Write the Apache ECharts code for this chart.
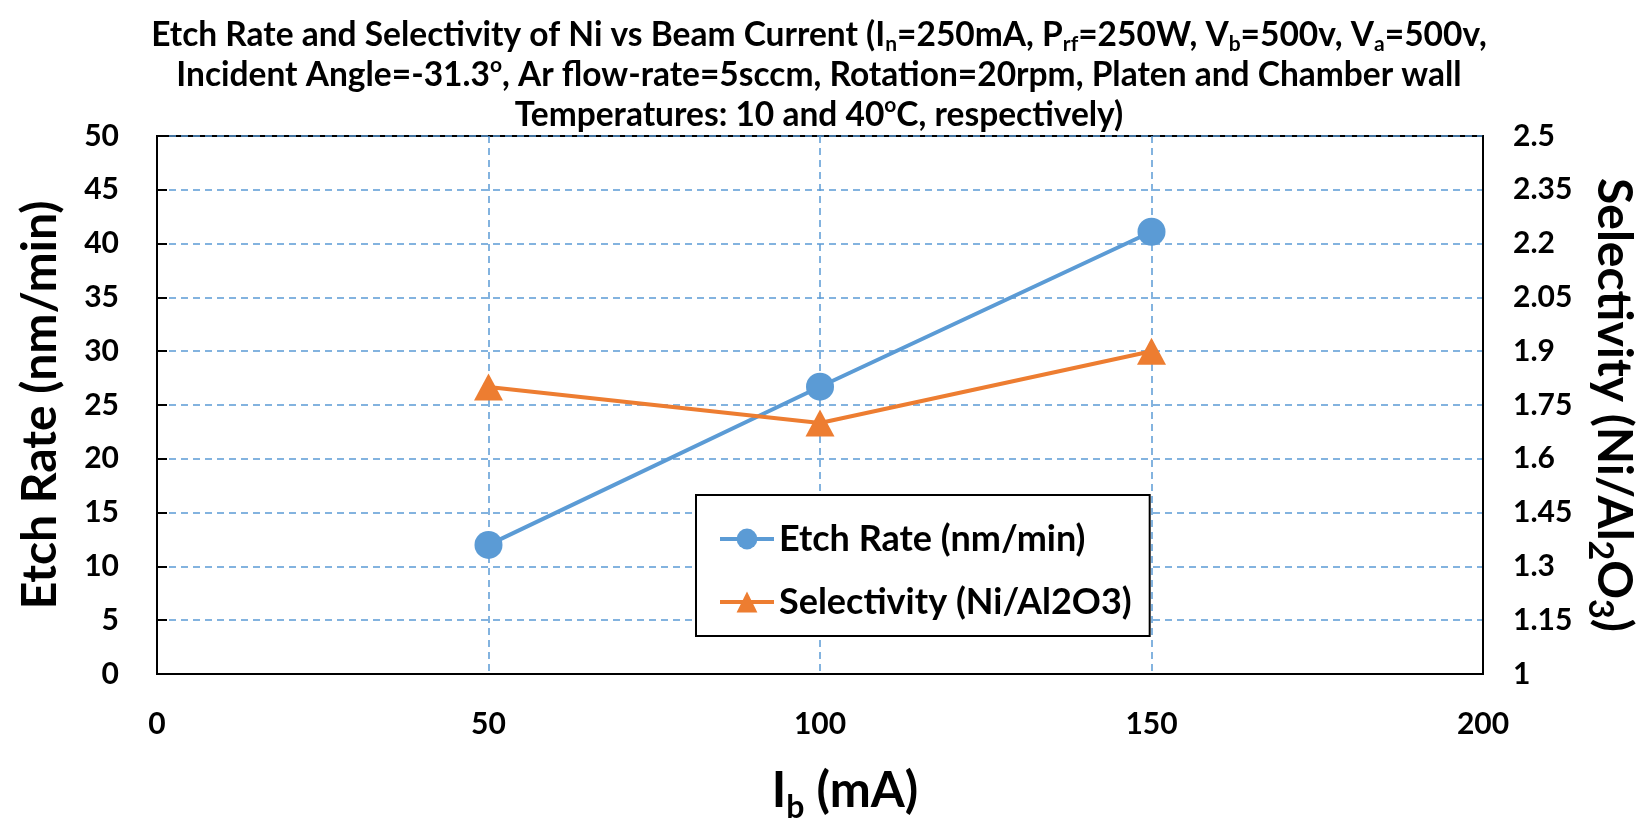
<!DOCTYPE html>
<html>
<head>
<meta charset="utf-8">
<title>Etch Rate and Selectivity of Ni vs Beam Current</title>
<script src="https://cdn.jsdelivr.net/npm/echarts@6/dist/echarts.min.js"></script>
<style>
  html, body { margin: 0; padding: 0; background: #fff; }
  #chart { width: 1652px; height: 823px; }
</style>
</head>
<body>
<div id="chart"></div>
<script>
// beam current Ib (mA)
const beamCurrent = [50, 100, 150];
// Ni etch rate (nm/min) - left axis
const etchRate = [12.0, 26.7, 41.1];
// selectivity Ni/Al2O3 - right axis
const selectivity = [1.80, 1.70, 1.90];
const seriesNames = ['Etch Rate (nm/min)', 'Selectivity (Ni/Al2O3)'];

// title, 3 wrapped lines like the excel one
const titleLines = [
  'Etch Rate and Selectivity of Ni vs Beam Current (I{sub|n}=250mA, P{sub|rf}=250W, V{sub|b}=500v, V{sub|a}=500v,',
  'Incident Angle=-31.3{sup|o}, Ar flow-rate=5sccm, Rotation=20rpm, Platen and Chamber wall',
  'Temperatures: 10 and 40{sup|o}C, respectively)'
];

const FONT = 'Lato';
const BLUE = '#5B9BD5';
const ORANGE = '#ED7D31';

const gridDash = {
  show: true,
  lineStyle: { color: BLUE, width: 1.5, type: [7, 5] }
};

// small bold text piece for rich labels (sub/superscripts)
function piece(size, lh, va) {
  return { fontFamily: FONT, fontWeight: 'bold', fontSize: size, lineHeight: lh, verticalAlign: va, color: '#000' };
}

const chart = echarts.init(document.getElementById('chart'));

chart.setOption({
  animation: false,
  backgroundColor: '#fff',
  title: {
    text: titleLines.join('\n'),
    left: 814,
    top: 10,
    textAlign: 'center',
    textStyle: {
      fontFamily: FONT,
      fontWeight: 'bold',
      fontSize: 33.5,
      lineHeight: 40,
      color: '#000',
      rich: {
        sub: piece(21, 14, 'bottom'),
        sup: piece(21, 21, 'top')
      }
    }
  },
  grid: {
    left: 157,
    right: 169,
    top: 136,
    bottom: 149,
    outerBoundsMode: 'none',
    show: true,
    borderColor: '#000',
    borderWidth: 2
  },
  legend: {
    orient: 'vertical',
    left: 696,
    top: 495,
    padding: [26, 18, 16, 22],
    itemGap: 27,
    itemWidth: 54,
    itemHeight: 26,
    borderColor: '#000',
    borderWidth: 2,
    backgroundColor: '#fff',
    lineStyle: { width: 4 },
    textStyle: { fontFamily: FONT, fontWeight: 'bold', fontSize: 36, color: '#000' },
    data: seriesNames
  },
  xAxis: {
    type: 'value',
    min: 0,
    max: 200,
    interval: 50,
    axisLine: { lineStyle: { color: '#000', width: 2 } },
    axisTick: { show: false },
    axisLabel: { fontFamily: FONT, fontWeight: 'bold', fontSize: 30, color: '#000', margin: 35 },
    splitLine: gridDash,
    name: 'I{sub|b} (mA)',
    nameLocation: 'middle',
    nameGap: 84,
    nameTextStyle: {
      fontFamily: FONT, fontWeight: 'bold', fontSize: 49, lineHeight: 66, color: '#000',
      padding: [0, 0, 0, 50],
      rich: { sub: piece(32, 22, 'bottom') }
    }
  },
  yAxis: [
    {
      type: 'value',
      min: 0,
      max: 50,
      interval: 5,
      axisLine: { lineStyle: { color: '#000', width: 2 } },
      axisTick: { show: true, inside: true, length: 10, lineStyle: { color: '#000', width: 2 } },
      axisLabel: { fontFamily: FONT, fontWeight: 'bold', fontSize: 30, color: '#000', margin: 38 },
      splitLine: gridDash,
      name: 'Etch Rate (nm/min)',
      nameLocation: 'middle',
      nameRotate: 90,
      nameGap: 92,
      nameTextStyle: { fontFamily: FONT, fontWeight: 'bold', fontSize: 48, color: '#000' }
    },
    {
      type: 'value',
      min: 1,
      max: 2.5,
      interval: 0.15,
      position: 'right',
      axisLine: { show: true, lineStyle: { color: '#000', width: 2 } },
      axisTick: { show: false },
      axisLabel: {
        fontFamily: FONT, fontWeight: 'bold', fontSize: 30, color: '#000', margin: 30,
        formatter: v => String(+v.toFixed(2))
      },
      splitLine: { show: false },
      name: 'Selectivity (Ni/Al{sub|2}O{sub|3})',
      nameLocation: 'middle',
      nameRotate: -90,
      nameGap: 100,
      nameTextStyle: {
        fontFamily: FONT, fontWeight: 'bold', fontSize: 48, lineHeight: 60, color: '#000',
        rich: { sub: piece(34, 22, 'bottom') }
      }
    }
  ],
  series: [
    {
      name: seriesNames[0],
      type: 'line',
      yAxisIndex: 0,
      data: beamCurrent.map((x, i) => [x, etchRate[i]]),
      symbol: 'circle',
      symbolSize: 28,
      lineStyle: { color: BLUE, width: 4 },
      itemStyle: { color: BLUE }
    },
    {
      name: seriesNames[1],
      type: 'line',
      yAxisIndex: 1,
      data: beamCurrent.map((x, i) => [x, selectivity[i]]),
      symbol: 'triangle',
      symbolSize: [29, 27],
      lineStyle: { color: ORANGE, width: 4 },
      itemStyle: { color: ORANGE }
    }
  ]
});
</script>
</body>
</html>
